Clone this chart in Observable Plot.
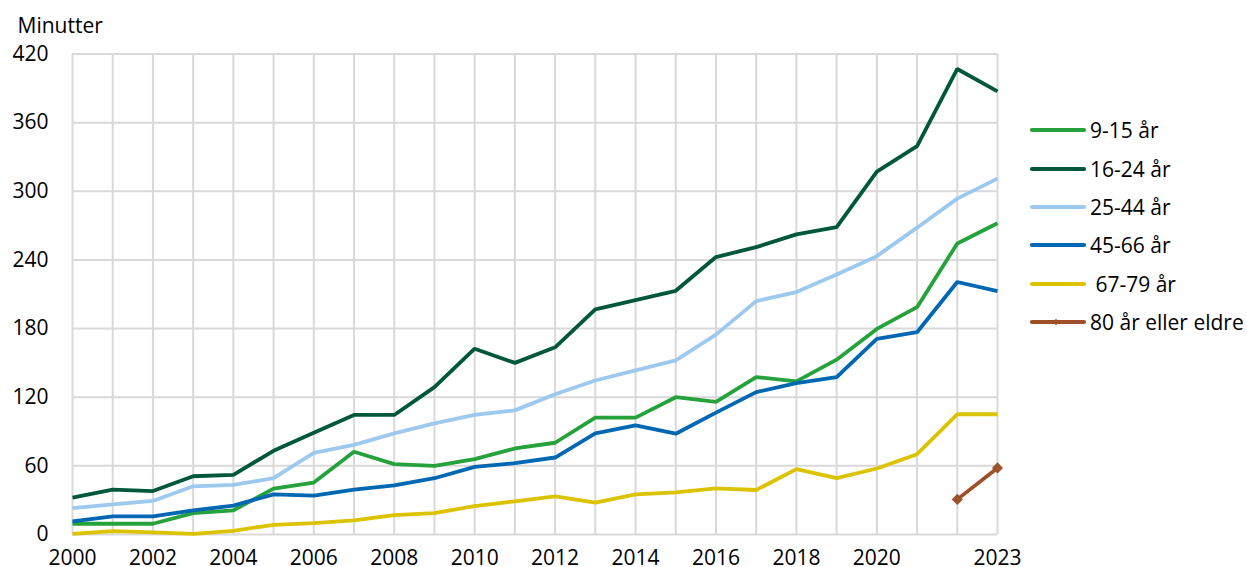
<!DOCTYPE html>
<html><head><meta charset="utf-8">
<script src="https://cdn.jsdelivr.net/npm/d3@7"></script>
<script src="https://cdn.jsdelivr.net/npm/@observablehq/plot@0.6"></script>
<style>
body{margin:0;background:#fff;font-family:"Open Sans",sans-serif;}
#wrap{position:relative;width:1247px;height:567px;}
#legend{position:absolute;left:0;top:0;}
.row{position:absolute;display:flex;align-items:center;white-space:nowrap;font-size:21px;color:#000;line-height:1;}
.row svg{margin-right:3px;}
</style></head><body><div id="wrap"><div id="chart"></div><div id="legend"></div></div>
<script>
const years = [2000,2001,2002,2003,2004,2005,2006,2007,2008,2009,2010,2011,2012,2013,2014,2015,2016,2017,2018,2019,2020,2021,2022,2023];
const seriesNames = ["9-15 år","16-24 år","25-44 år","45-66 år"," 67-79 år","80 år eller eldre"];
const colors = ["#25a23b","#00573b","#9dc9ee","#0067b3","#dcc300","#9e5128"];
const v9_15  = [9.4,9.4,9.4,18.7,21.1,40.1,45.4,72.3,61.5,60,65.9,75.2,80.2,102.2,102.2,120,115.9,137.6,133.8,152.8,179.7,198.7,254.4,272];
const v16_24 = [32.2,39.2,38,50.9,52.1,73.2,89,104.5,104.5,128.8,162.4,150,163.6,196.7,204.9,213,242.5,251.2,262.3,268.7,317.2,339.4,406.9,387.3];
const v25_44 = [23.1,26.3,29.3,42.1,43.3,49.2,71.4,78.4,88.4,97.2,104.5,108.5,122.6,134.6,143.4,152.2,174.7,204,211.9,227.3,243.3,268.2,293.6,311.1];
const v45_66 = [11.4,15.8,15.8,21.1,25.2,35.1,34,39.2,43,49.2,59.1,62.3,67.3,88.4,95.4,88.1,106.5,124.4,132.3,137.6,170.9,176.8,220.7,212.8];
const v67_79 = [0.6,2.9,1.8,0.6,3.2,8.5,10,12.3,17,18.7,24.9,29,33.4,27.8,35.1,36.9,40.4,38.9,57.1,49.2,57.7,70.2,105.1,105.1];
const years80 = [2022,2023];
const v80 = [30.7,58.2];
const yTicks = [0,60,120,180,240,300,360,420];
const xTicks = [2000,2002,2004,2006,2008,2010,2012,2014,2016,2018,2020,2023];
const yLabel = "Minutter";

const allValues = [v9_15,v16_24,v25_44,v45_66,v67_79];
const data = [];
allValues.forEach((vals,i)=>vals.forEach((v,j)=>data.push({year:years[j],value:v,series:seriesNames[i]})));
const data80 = years80.map((y,j)=>({year:y,value:v80[j],series:seriesNames[5]}));

const chart = Plot.plot({
  width:1247, height:567,
  marginLeft:72, marginRight:250, marginTop:53.5, marginBottom:33,
  style:{fontFamily:"'Open Sans', sans-serif", fontSize:"21px", color:"#000", background:"#fff"},
  x:{type:"linear", domain:[2000,2023]},
  y:{domain:[0,420]},
  color:{domain:seriesNames, range:colors},
  marks:[
    Plot.ruleX(years,{stroke:"#d9d9d9",strokeWidth:2}),
    Plot.ruleY(yTicks,{stroke:"#d9d9d9",strokeWidth:2}),
    Plot.axisY({ticks:yTicks, tickSize:0, tickPadding:24, label:null}),
    Plot.axisX({ticks:xTicks, tickSize:0, tickPadding:16, tickFormat:"d", label:null}),
    Plot.text([yLabel],{frameAnchor:"top-left", text:d=>d, textAnchor:"start", lineAnchor:"bottom", dx:-55, dy:-21}),
    Plot.line(data,{x:"year",y:"value",z:"series",stroke:"series",strokeWidth:3.8,strokeLinejoin:"miter",strokeLinecap:"butt"}),
    Plot.line(data80,{x:"year",y:"value",stroke:"series",strokeWidth:3.8}),
    Plot.dot(data80,{x:"year",y:"value",fill:"series",symbol:"diamond2",r:5,stroke:null})
  ]
});
document.getElementById("chart").appendChild(chart);

const legend = document.getElementById("legend");
const rowY = [130,169,207,245,284,322];
seriesNames.forEach((name,i)=>{
  const row = document.createElement("div");
  row.className="row";
  row.style.left="1029px";
  row.style.top=(rowY[i]-12)+"px";
  row.style.height="24px";
  const marker = i===5 ? `<path d="M27,-3.2 L30.2,0 L27,3.2 L23.8,0Z" fill="${colors[i]}" transform="translate(0,12)"/>` : "";
  row.innerHTML = `<svg width="58" height="24"><line x1="3" x2="55" y1="12" y2="12" stroke="${colors[i]}" stroke-width="4.2" stroke-linecap="round"/>${marker}</svg><span style="white-space:pre">${name}</span>`;
  legend.appendChild(row);
});
</script></body></html>
